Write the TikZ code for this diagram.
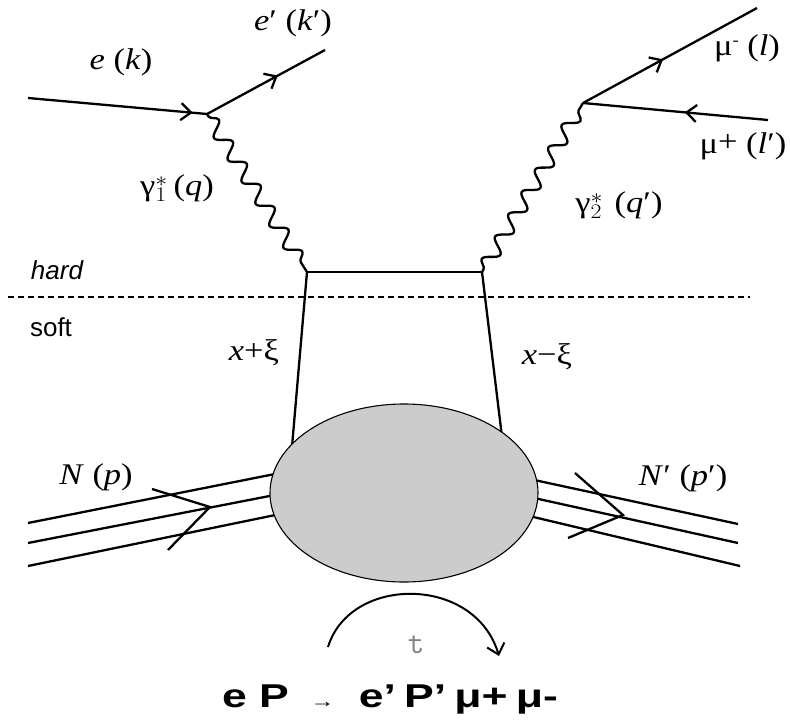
\documentclass[tikz,border=0pt]{standalone}
\usepackage{fontspec}
\setmainfont{Liberation Serif}
\setsansfont{Liberation Sans}
\usetikzlibrary{decorations.pathmorphing,decorations.markings,arrows.meta}

\definecolor{blobgray}{RGB}{204,204,204}
\newcommand{\wide}[2][1.15]{\scalebox{#1}[1]{#2}}

\tikzset{
  fermion/.style={postaction={decorate},
    decoration={markings,mark=at position #1 with {\arrow{Straight Barb[length=10pt,width=17pt]}}}},
  photon/.style={decorate,decoration={snake,amplitude=7pt,segment length=26pt,pre length=3pt,post length=3pt}},
  lbl/.style={font=\fontsize{30}{34}\selectfont},
}

\begin{document}
\begin{tikzpicture}[x=1pt, y=-1pt, line width=2.3pt]
\useasboundingbox (0,0) rectangle (790,720);

% vertices
\coordinate (ein) at (28,98);
\coordinate (v1) at (207,114);
\coordinate (eout) at (325,50);
\coordinate (v2) at (583,103);
\coordinate (mum) at (757,8);
\coordinate (mup) at (768,120);
\coordinate (hl) at (307,272);
\coordinate (hr) at (482,272);
\coordinate (sl) at (290,470);
\coordinate (sr) at (506,470);

% leptons
\draw[fermion=0.92] (ein) -- (v1);
\draw[fermion=0.60] (v1) -- (eout);
\draw[fermion=0.46] (v2) -- (mum);
\draw[fermion=0.45] (mup) -- (v2);

% photons
\draw[photon] (v1) -- (hl);
\draw[photon] (hr) -- (v2);

% hard part and partons
\draw (hl) -- (hr);
\draw (hl) -- (sl);
\draw (hr) -- (sr);

% hard / soft separation
\coordinate (cutl) at (8,297);
\coordinate (cutr) at (750,297);
\draw[line width=2.3pt, dash pattern=on 6pt off 4pt] (cutl) -- (cutr);
\node[font=\fontsize{26}{30}\selectfont\sffamily\itshape] (hard) at (57,270) {hard};
\node[font=\fontsize{26}{30}\selectfont\sffamily] (soft) at (51,327) {soft};

% nucleons
\coordinate (na1) at (28,523);  \coordinate (nb1) at (285,472);
\coordinate (na2) at (28,543);  \coordinate (nb2) at (285,493);
\coordinate (na3) at (28,566);  \coordinate (nb3) at (285,513);
\draw (na1) -- (nb1);
\draw (na2) -- (nb2);
\draw (na3) -- (nb3);
\coordinate (ca) at (152,489); \coordinate (cb) at (210,507); \coordinate (cc) at (168,550);
\draw (ca) -- (cb) -- (cc);

\coordinate (nc1) at (525,478); \coordinate (nd1) at (738,524);
\coordinate (nc2) at (525,496); \coordinate (nd2) at (738,543);
\coordinate (nc3) at (525,515); \coordinate (nd3) at (740,566);
\draw (nc1) -- (nd1);
\draw (nc2) -- (nd2);
\draw (nc3) -- (nd3);
\coordinate (cd) at (575,473); \coordinate (ce) at (623,515); \coordinate (cf) at (568,538);
\draw (cd) -- (ce) -- (cf);

% GPD blob
\draw[fill=blobgray, line width=1.1pt] (404,493) ellipse [x radius=134, y radius=89];

% momentum transfer
\coordinate (ta) at (328,647);
\coordinate (tb) at (499,656);
\draw[line width=2pt, -{Straight Barb[length=10pt,width=18pt]}] (ta) .. controls (350,575) and (475,575) .. (tb);
\node[font=\fontsize{32}{36}\selectfont\ttfamily, text=gray] (t) at (416,645) {t};

% labels
\node[lbl] (lek) at (121,62) {\wide{\textit{e} (\textit{k})}};
\node[lbl] (lekp) at (293,23) {\wide{\textit{e}′ (\textit{k}′)}};
\node[lbl] (lq) at (177,188) {\wide{γ$^*_1$\,(\textit{q})}};
\node[lbl] (lqp) at (619,205) {\wide{γ$^*_2$\,\,(\textit{q}′)}};
\node[lbl] (lmum) at (747,48) {\wide{μ\raisebox{10pt}{\fontsize{16}{18}\selectfont -} (\textit{l})}};
\node[lbl] (lmup) at (743,146) {\wide{μ\raisebox{2pt}{+} (\textit{l}′)}};
\node[lbl] (lxp) at (254,353) {\wide{\textit{x}+ξ}};
\node[lbl] (lxm) at (547,357) {\wide{\textit{x}−ξ}};
\node[lbl] (lN) at (96,477) {\wide{\textit{N} (\textit{p})}};
\node[lbl] (lNp) at (683,478) {\wide{\textit{N}′ (\textit{p}′)}};

\node[font=\fontsize{33}{38}\selectfont\sffamily\bfseries] (proc) at (390,699)
  {\wide[1.35]{e\hspace{9pt}P\hspace{16pt}{\fontsize{18}{20}\selectfont\mdseries →}\hspace{18pt}e’\hspace{6pt}P’\hspace{6pt}μ+\hspace{6pt}μ-}};
\end{tikzpicture}
\end{document}
